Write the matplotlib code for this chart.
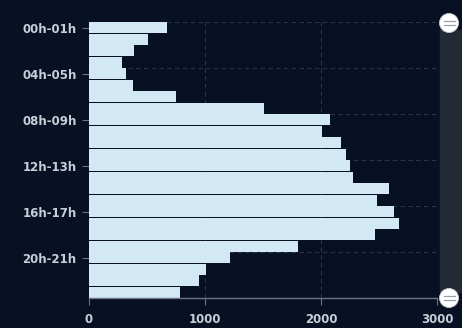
import matplotlib.pyplot as plt
from matplotlib.patches import Rectangle, Ellipse
from matplotlib.lines import Line2D
import numpy as np

# hourly buckets, top to bottom
hours = ['%02dh-%02dh' % (h, h + 1) for h in range(24)]
counts = [675, 506, 391, 287, 322, 379, 747, 1511, 2078, 2011, 2170, 2216,
          2250, 2273, 2583, 2480, 2629, 2675, 2468, 1805, 1216, 1009, 951, 787]
x_ticks = [0, 1000, 2000, 3000]

bg = '#081024'
bar_color = '#d3e8f5'
text_color = '#c8ced8'
W, H = 462, 328

fig = plt.figure(figsize=(W / 100, H / 100), dpi=100, facecolor=bg)
ax = fig.add_axes([89 / W, 30 / H, (437 - 89) / W, (298 - 22) / H], facecolor=bg)

y = np.arange(len(hours))
ax.barh(y, counts, height=0.95, color=bar_color, zorder=3)

ax.set_xlim(0, 3000)
ax.set_ylim(len(hours) - 0.5, -0.5)

ax.set_xticks(x_ticks)
ax.set_xticklabels([str(t) for t in x_ticks])
ax.set_yticks(y[::4])
ax.set_yticklabels(hours[::4])

# dashed split lines at category boundaries and value ticks
for b in np.arange(-0.5, len(hours), 4):
    ax.axhline(b, color='#2c3548', lw=0.8, ls=(0, (4, 3)), zorder=1)
for t in x_ticks[1:]:
    ax.axvline(t, color='#2c3548', lw=0.8, ls=(0, (4, 3)), zorder=1)

for s in ['top', 'right', 'left']:
    ax.spines[s].set_visible(False)
ax.spines['bottom'].set_color('#6e7382')
ax.spines['bottom'].set_linewidth(1.0)
ax.spines['bottom'].set_zorder(4)

ax.tick_params(axis='x', colors='#6e7382', length=5, width=0.8, pad=6,
               labelcolor=text_color, labelsize=8.5)
ax.tick_params(axis='y', colors='#6e7382', length=5, width=0.8, pad=4,
               labelcolor=text_color, labelsize=8.5)
for lab in ax.get_xticklabels() + ax.get_yticklabels():
    lab.set_fontweight('bold')

# zoom slider on the right
def px(x, yy):
    return x / W, 1 - yy / H

x0, y0 = px(440, 292)
fig.patches.append(Rectangle((x0, y0), 30 / W, (292 - 30) / H,
                             transform=fig.transFigure, color='#232935', zorder=1))
for cy in [23, 298]:
    cx, cyf = px(449, cy)
    fig.patches.append(Ellipse((cx, cyf), 19 / W, 19 / H, transform=fig.transFigure,
                               facecolor='white', edgecolor='#c8ccd4', lw=0.6, zorder=5))
    for dy in [-2, 2]:
        fig.lines.append(Line2D([cx - 5.5 / W, cx + 5.5 / W],
                                [cyf + dy / H, cyf + dy / H],
                                transform=fig.transFigure, color='#9aa0aa',
                                lw=0.9, zorder=6))

fig.savefig('out.png', dpi=100, facecolor=bg)
